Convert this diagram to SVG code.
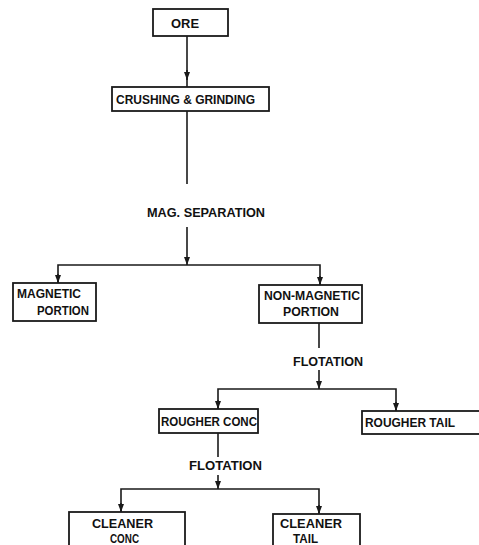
<svg xmlns="http://www.w3.org/2000/svg" width="479" height="545" viewBox="0 0 479 545">
<defs>
<marker id="dn" viewBox="0 0 6 8" refX="3" refY="8" markerWidth="6" markerHeight="8" markerUnits="userSpaceOnUse" orient="0">
<path d="M0,0 L6,0 L3,8 Z" fill="#1a1a1a"/>
</marker>
<style>
.box{fill:#fff;stroke:#1a1a1a;stroke-width:1.8}
.ln{fill:none;stroke:#1a1a1a;stroke-width:1.6}
.t{font-family:"Liberation Sans Narrow","Liberation Sans",Arial,sans-serif;font-weight:bold;font-size:12.5px;fill:#111}
</style>
</defs>
<rect width="479" height="545" fill="#fff"/>
<g id="connectors">
<line class="ln" x1="187" y1="36" x2="187" y2="87"/>
<line class="ln" x1="187" y1="70" x2="187" y2="80" marker-end="url(#dn)"/>
<line class="ln" x1="187" y1="111" x2="187" y2="184"/>
<line class="ln" x1="187" y1="227" x2="187" y2="265" marker-end="url(#dn)"/>
<polyline class="ln" points="58,283 58,265 320,265 320,285"/>
<line class="ln" x1="58" y1="274" x2="58" y2="283" marker-end="url(#dn)"/>
<line class="ln" x1="320" y1="276" x2="320" y2="285" marker-end="url(#dn)"/>
<line class="ln" x1="319" y1="323" x2="319" y2="348"/>
<line class="ln" x1="319" y1="370" x2="319" y2="389" marker-end="url(#dn)"/>
<polyline class="ln" points="218,409 218,389 396,389 396,411"/>
<line class="ln" x1="218" y1="400" x2="218" y2="409" marker-end="url(#dn)"/>
<line class="ln" x1="396" y1="402" x2="396" y2="411" marker-end="url(#dn)"/>
<line class="ln" x1="218" y1="433" x2="218" y2="457"/>
<line class="ln" x1="218" y1="475" x2="218" y2="489" marker-end="url(#dn)"/>
<polyline class="ln" points="121,512 121,489 319,489 319,514"/>
<line class="ln" x1="121" y1="503" x2="121" y2="512" marker-end="url(#dn)"/>
<line class="ln" x1="319" y1="505" x2="319" y2="514" marker-end="url(#dn)"/>
</g>
<g id="ore">
<rect class="box" x="153" y="9" width="75" height="27"/>
<text class="t" x="171" y="27.5" textLength="28" lengthAdjust="spacingAndGlyphs">ORE</text>
</g>
<g id="crushing">
<rect class="box" x="112" y="87" width="157" height="24"/>
<text class="t" x="116" y="104" textLength="139" lengthAdjust="spacingAndGlyphs">CRUSHING &amp; GRINDING</text>
</g>
<g id="magsep">
<text class="t" x="147" y="217" textLength="118" lengthAdjust="spacingAndGlyphs">MAG. SEPARATION</text>
</g>
<g id="magnetic">
<rect class="box" x="13" y="283" width="83" height="38"/>
<text class="t" x="17" y="297.5" textLength="64" lengthAdjust="spacingAndGlyphs">MAGNETIC</text>
<text class="t" x="37" y="314.5" textLength="52" lengthAdjust="spacingAndGlyphs">PORTION</text>
</g>
<g id="nonmagnetic">
<rect class="box" x="259" y="285" width="103" height="38"/>
<text class="t" x="264" y="299.5" textLength="96" lengthAdjust="spacingAndGlyphs">NON-MAGNETIC</text>
<text class="t" x="283" y="315.5" textLength="56" lengthAdjust="spacingAndGlyphs">PORTION</text>
</g>
<g id="flotation1">
<text class="t" x="293" y="365.5" textLength="70" lengthAdjust="spacingAndGlyphs">FLOTATION</text>
</g>
<g id="rougherconc">
<rect class="box" x="159" y="409" width="99" height="24"/>
<text class="t" x="161" y="426" textLength="96" lengthAdjust="spacingAndGlyphs">ROUGHER CONC</text>
</g>
<g id="roughertail">
<rect class="box" x="362" y="411" width="125" height="23"/>
<text class="t" x="365" y="427" textLength="90" lengthAdjust="spacingAndGlyphs">ROUGHER TAIL</text>
</g>
<g id="flotation2">
<text class="t" x="189" y="469.5" textLength="73" lengthAdjust="spacingAndGlyphs">FLOTATION</text>
</g>
<g id="cleanerconc">
<rect class="box" x="69" y="512" width="116" height="40"/>
<text class="t" x="92" y="527.5" textLength="61" lengthAdjust="spacingAndGlyphs">CLEANER</text>
<text class="t" x="110" y="542.5" textLength="29" lengthAdjust="spacingAndGlyphs">CONC</text>
</g>
<g id="cleanertail">
<rect class="box" x="273" y="514" width="87" height="40"/>
<text class="t" x="280" y="527.5" textLength="62" lengthAdjust="spacingAndGlyphs">CLEANER</text>
<text class="t" x="293" y="542.5" textLength="25" lengthAdjust="spacingAndGlyphs">TAIL</text>
</g>
</svg>
